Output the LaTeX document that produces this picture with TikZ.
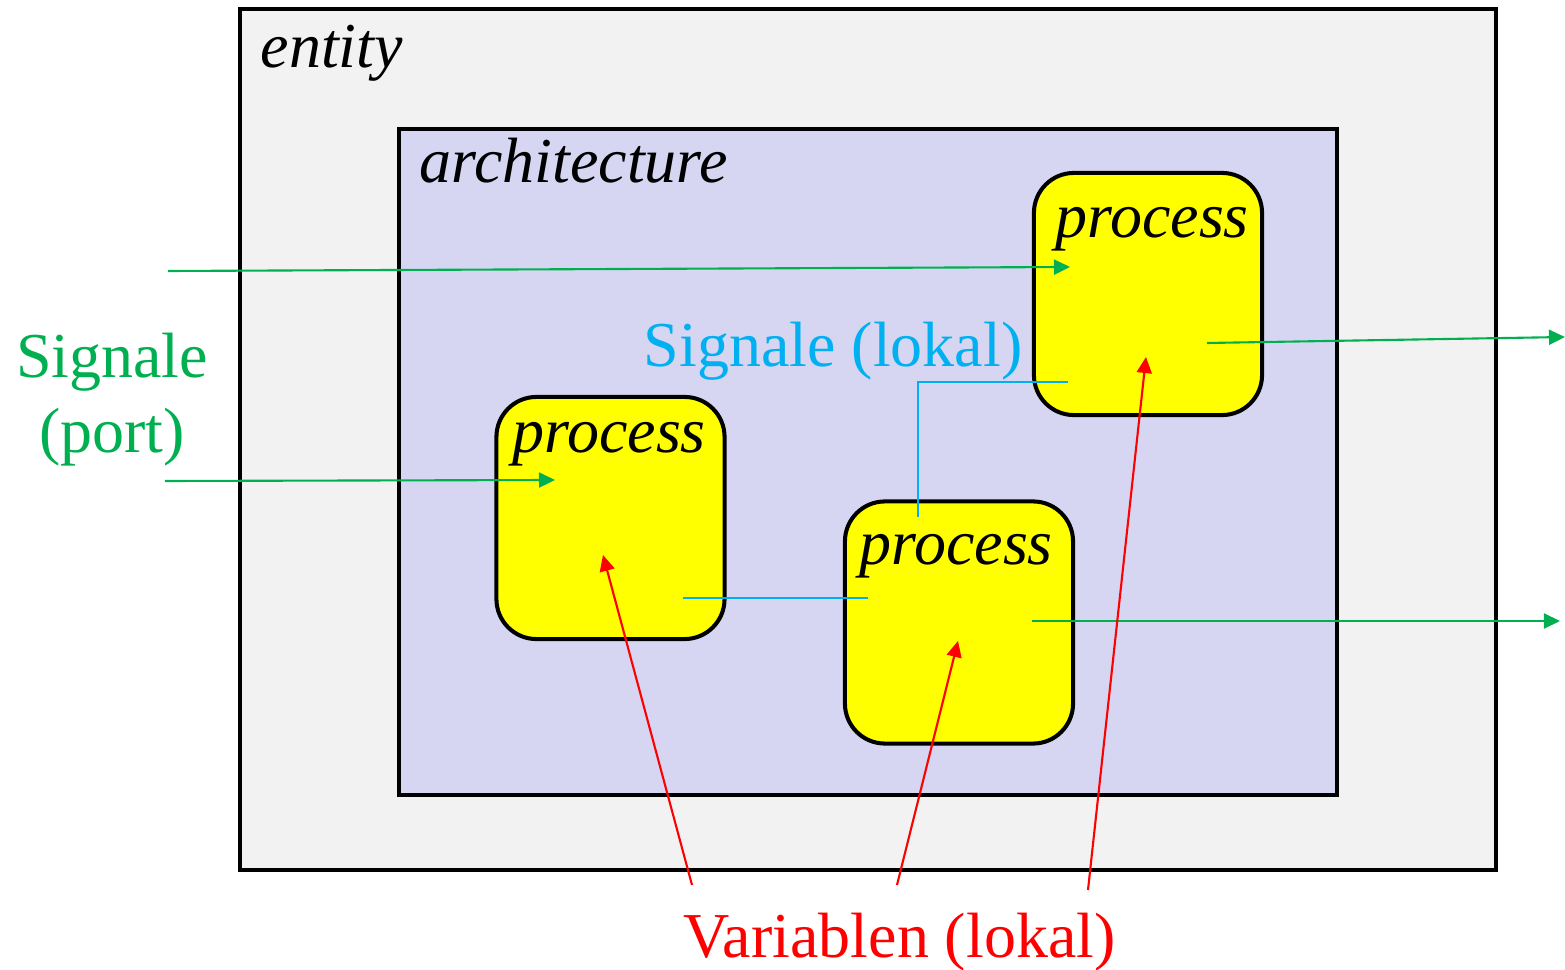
\documentclass[tikz,border=0pt]{standalone}
\usepackage{fontspec}
\setmainfont{Liberation Serif}
\usetikzlibrary{arrows.meta}
\definecolor{entityfill}{HTML}{F2F2F2}
\definecolor{archfill}{HTML}{D6D6F3}
\definecolor{procfill}{HTML}{FFFF00}
\definecolor{portgreen}{HTML}{00B050}
\definecolor{localblue}{HTML}{00B0F0}
\definecolor{varred}{HTML}{FF0000}
\tikzset{
  bigtext/.style={font=\fontsize{18.2}{21}\selectfont, inner sep=0pt},
  caption/.style={bigtext, font=\fontsize{18.2}{21}\selectfont\itshape, anchor=base west},
  outerbox/.style={draw=black, line width=1.15pt, fill=entityfill, inner sep=0pt},
  archbox/.style={draw=black, line width=1.15pt, fill=archfill, inner sep=0pt},
  procbox/.style={draw=black, line width=1.15pt, fill=procfill, rounded corners=0.4cm,
    minimum width=2.28cm, minimum height=2.42cm, inner sep=0pt},
  tip/.style={-{Triangle[length=0.16cm, width=0.15cm]}},
  portsig/.style={tip, draw=portgreen, line width=0.6pt},
  localsig/.style={draw=localblue, line width=0.6pt},
  varptr/.style={tip, draw=varred, line width=0.6pt},
}
\begin{document}
\begin{tikzpicture}[x=0.01cm, y=-0.01cm]
\useasboundingbox (0,0) rectangle (1565,970);

% nested containers
\node[outerbox, minimum width=12.56cm, minimum height=8.61cm] (entity) at (868,439.5) {};
\node[caption] (entitylbl) at (260,68) {entity};
\node[archbox, minimum width=9.38cm, minimum height=6.66cm] (arch) at (868,462) {};
\node[caption] (archlbl) at (419,183) {architecture};

% processes
\node[procbox] (p1) at (1148,294) {};
\node[procbox] (p2) at (610.5,518) {};
\node[procbox] (p3) at (959,622.5) {};
\node[caption] (p1lbl) at (1055,238) {process};
\node[caption] (p2lbl) at (512,453) {process};
\node[caption] (p3lbl) at (859,565) {process};

% connector end points
\coordinate (inA) at (168,271);
\coordinate (inAend) at (1070,267);
\coordinate (inB) at (165,481);
\coordinate (inBend) at (555,480);
\coordinate (outA) at (1207,343);
\coordinate (outAend) at (1565,337);
\coordinate (outB) at (1032,621);
\coordinate (outBend) at (1560,621);
\coordinate (lsA) at (683,598);
\coordinate (lsAend) at (868,598);
\coordinate (lsB) at (918,517);
\coordinate (lsBend) at (1068,382);
\coordinate (vA) at (692,885);
\coordinate (vAend) at (603,555);
\coordinate (vB) at (897,885);
\coordinate (vBend) at (958,641);
\coordinate (vC) at (1088,890);
\coordinate (vCend) at (1146,357);

% port signals
\draw[portsig] (inA) -- (inAend);
\draw[portsig] (inB) -- (inBend);
\draw[portsig] (outA) -- (outAend);
\draw[portsig] (outB) -- (outBend);

% local signals
\draw[localsig] (lsA) -- (lsAend);
\draw[localsig] (lsB) |- (lsBend);

% local variables
\draw[varptr] (vA) -- (vAend);
\draw[varptr] (vB) -- (vBend);
\draw[varptr] (vC) -- (vCend);

% labels
\node[bigtext, text=portgreen, anchor=base] (portlbl1) at (112,378) {Signale};
\node[bigtext, text=portgreen, anchor=base] (portlbl2) at (112,453) {(port)};
\node[bigtext, text=localblue, anchor=base west] (locallbl) at (643,367) {Signale (lokal)};
\node[bigtext, text=varred, anchor=base west] (varlbl) at (683,958) {Variablen (lokal)};
\end{tikzpicture}
\end{document}
